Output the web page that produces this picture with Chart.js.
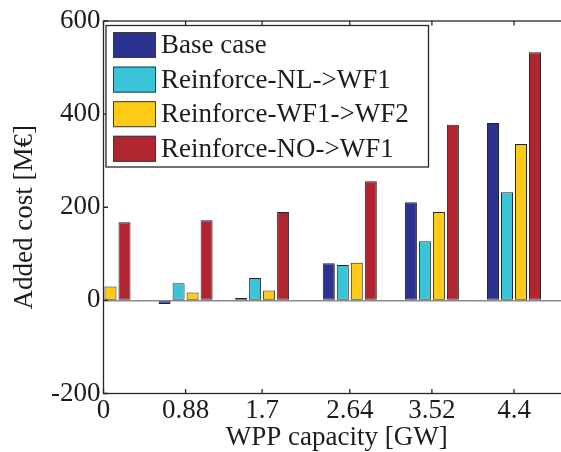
<!DOCTYPE html>
<html>
<head>
<meta charset="utf-8">
<script src="https://cdn.jsdelivr.net/npm/chart.js@4/dist/chart.umd.min.js"></script>
<style>
  html, body { margin: 0; padding: 0; overflow: hidden; background: #fff; width: 561px; height: 452px; }
  #wrap { position: relative; width: 570px; height: 452px; }
  canvas { display: block; }
</style>
</head>
<body>
<div id="wrap"><canvas id="chart" width="570" height="452"></canvas></div>
<script>
// Added cost per WPP capacity step, one array per reinforcement scenario (M€)
const capacities = [0, 0.88, 1.7, 2.64, 3.52, 4.4];
const xTickLabels = ['0', '0.88', '1.7', '2.64', '3.52', '4.4'];
const yTickValues = [-200, 0, 200, 400, 600];

const seriesNames = ['Base case', 'Reinforce-NL->WF1', 'Reinforce-WF1->WF2', 'Reinforce-NO->WF1'];
const baseCase        = [0, -8, 5, 80, 211, 381];
const reinforceNL     = [0, 37, 48, 76, 127, 232];
const reinforceWF1WF2 = [30, 17, 21, 81, 190, 336];
const reinforceNO     = [168, 172, 190, 256, 377, 533];
const seriesValues = [baseCase, reinforceNL, reinforceWF1WF2, reinforceNO];
const seriesColors = ['#2c3290', '#3ac4d8', '#fdcb17', '#b0252f'];

const yTitle = 'Added cost [M€]';
const xTitle = 'WPP capacity [GW]';

const TEXT = '#1c1c1c';
const FRAME = '#262626';
const FAMILY = "'Liberation Serif', 'Times New Roman', serif";
Chart.defaults.font.family = FAMILY;
Chart.defaults.font.size = 27;
Chart.defaults.color = TEXT;

// Box around the axes with inward tick marks
const axesFrame = {
  id: 'axesFrame',
  afterDatasetsDraw(chart, args, o) {
    const { ctx, chartArea: a, scales: { x, y } } = chart;
    ctx.save();
    ctx.strokeStyle = o.color;
    ctx.lineWidth = o.width;
    ctx.strokeRect(a.left, a.top, a.right - a.left, a.bottom - a.top);
    ctx.beginPath();
    x.ticks.forEach(tk => {
      const px = x.getPixelForValue(tk.value);
      ctx.moveTo(px, a.bottom); ctx.lineTo(px, a.bottom - o.tickLength);
      ctx.moveTo(px, a.top);    ctx.lineTo(px, a.top + o.tickLength);
    });
    y.ticks.forEach(tk => {
      const py = y.getPixelForValue(tk.value);
      ctx.moveTo(a.left, py);  ctx.lineTo(a.left + o.tickLength, py);
      ctx.moveTo(a.right, py); ctx.lineTo(a.right - o.tickLength, py);
    });
    ctx.stroke();
    ctx.restore();
  }
};

// Rotated y-axis label, set a little below the axis middle
const yAxisLabel = {
  id: 'yAxisLabel',
  afterDraw(chart, args, o) {
    const { ctx, chartArea: a } = chart;
    ctx.save();
    ctx.translate(o.x, (a.top + a.bottom) / 2 + o.shift);
    ctx.rotate(-Math.PI / 2);
    ctx.font = `${o.fontSize}px ${FAMILY}`;
    ctx.fillStyle = TEXT;
    ctx.textAlign = 'center';
    ctx.textBaseline = 'middle';
    ctx.fillText(o.text, 0, 0);
    ctx.restore();
  }
};

// Framed legend inside the upper-left corner of the axes
const boxedLegend = {
  id: 'boxedLegend',
  afterDraw(chart, args, o) {
    const { ctx, chartArea: a } = chart;
    const left = a.left + o.offsetX;
    const top = a.top + o.offsetY;
    ctx.save();
    ctx.fillStyle = '#fff';
    ctx.fillRect(left, top, o.width, o.height);
    ctx.strokeStyle = o.borderColor;
    ctx.lineWidth = o.borderWidth;
    ctx.strokeRect(left, top, o.width, o.height);
    ctx.font = `${o.fontSize}px ${FAMILY}`;
    ctx.textBaseline = 'middle';
    ctx.textAlign = 'left';
    chart.data.datasets.forEach((ds, i) => {
      const cy = top + o.firstRow + i * o.rowPitch;
      ctx.fillStyle = ds.backgroundColor;
      ctx.fillRect(left + o.swatchX, cy - o.swatchH / 2, o.swatchW, o.swatchH);
      ctx.lineWidth = 1;
      ctx.strokeStyle = o.swatchBorder;
      ctx.strokeRect(left + o.swatchX + 0.5, cy - o.swatchH / 2 + 0.5, o.swatchW - 1, o.swatchH - 1);
      ctx.fillStyle = TEXT;
      ctx.fillText(ds.label, left + o.textX, cy + 1);
    });
    ctx.restore();
  }
};

new Chart(document.getElementById('chart'), {
  type: 'bar',
  data: {
    datasets: seriesNames.map((name, i) => ({
      label: name,
      data: capacities.map((c, j) => ({ x: c, y: seriesValues[i][j] })),
      backgroundColor: seriesColors[i],
      borderColor: '#262626',
      borderWidth: 1,
      borderSkipped: false,
      categoryPercentage: 0.732,
      barPercentage: 0.857,
      clip: 0
    }))
  },
  options: {
    responsive: false,
    animation: false,
    devicePixelRatio: 1,
    layout: { padding: { top: 21, right: 0, bottom: 0, left: 0 } },
    plugins: {
      legend: { display: false },
      tooltip: { enabled: false },
      axesFrame: { color: FRAME, width: 1.3, tickLength: 4.5 },
      yAxisLabel: { text: yTitle, x: 24.5, shift: 10, fontSize: 27 },
      boxedLegend: {
        offsetX: 2.5, offsetY: 4.5, width: 322.5, height: 141.5,
        borderColor: FRAME, borderWidth: 1.3,
        firstRow: 19.5, rowPitch: 34.6,
        swatchX: 7, swatchW: 43, swatchH: 26, swatchBorder: '#3a3a3a',
        textX: 55, fontSize: 27
      }
    },
    scales: {
      x: {
        type: 'linear',
        position: 'bottom',
        offset: false,
        min: 0,
        max: 5,
        afterBuildTicks: s => { s.ticks = capacities.map(v => ({ value: v })); },
        afterFit: s => { s.height = 58.5; },
        ticks: {
          autoSkip: false,
          maxRotation: 0,
          padding: 1,
          callback: (v, i) => xTickLabels[i]
        },
        grid: { display: false, drawTicks: false, offset: false },
        border: { display: false },
        title: { display: true, text: xTitle, padding: { top: 0, bottom: -2 } }
      },
      y: {
        min: -200,
        max: 600,
        afterBuildTicks: s => { s.ticks = yTickValues.map(v => ({ value: v })); },
        afterFit: s => { s.width = 103.5; },
        ticks: { padding: 3, callback: v => String(v) },
        grid: {
          drawTicks: false,
          lineWidth: 1.5,
          color: c => (c.tick && c.tick.value === 0 ? '#8a8a8a' : 'rgba(0,0,0,0)')
        },
        border: { display: false },
        title: { display: false }
      }
    }
  },
  plugins: [axesFrame, boxedLegend, yAxisLabel]
});
</script>
</body>
</html>
